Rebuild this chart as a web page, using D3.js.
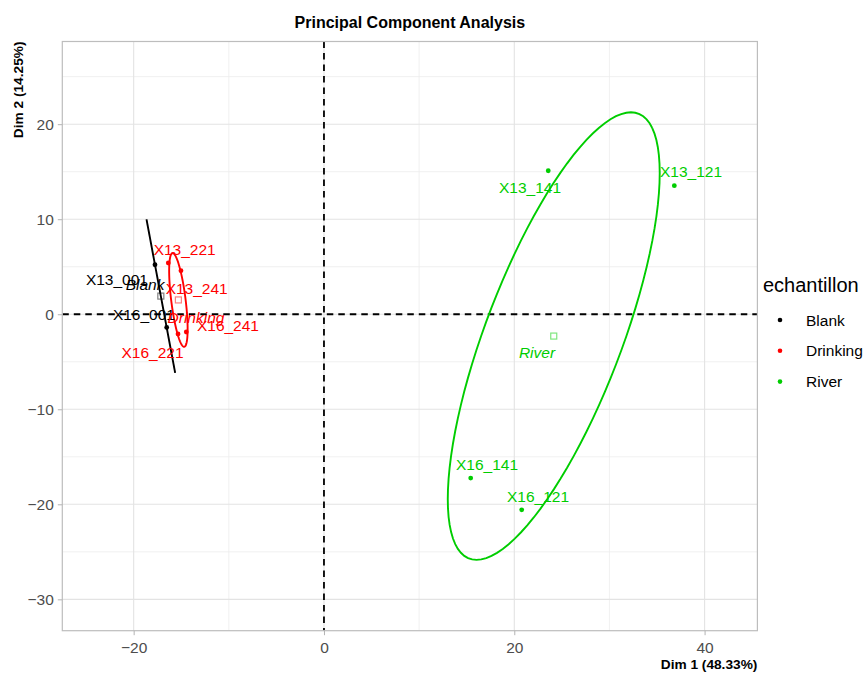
<!DOCTYPE html>
<html><head><meta charset="utf-8">
<script src="https://cdn.jsdelivr.net/npm/d3@7"></script>
<style>body{margin:0;background:#fff;} text{font-family:"Liberation Sans",Arial,sans-serif;}</style>
</head><body><svg id="chart" width="865" height="675"></svg>
<script>
// ---- data ----
const groups = ["Blank", "Drinking", "River"];
const groupColors = ["#000000", "#FF0000", "#00CD00"];
const pointNames = ["X13_001", "X16_001", "X13_221", "X13_241", "X16_221", "X16_241", "X13_141", "X13_121", "X16_141", "X16_121"];
const pointGroups = ["Blank", "Blank", "Drinking", "Drinking", "Drinking", "Drinking", "River", "River", "River", "River"];
const dim1 = [-17.76, -16.53, -16.36, -15.03, -15.34, -14.47, 23.57, 36.82, 15.42, 20.78];
const dim2 = [5.21, -1.39, 5.39, 4.58, -2.08, -1.87, 15.10, 13.53, -17.24, -20.58];
// repelled label positions (data units)
const labelDim1 = [-21.76, -18.92, -14.64, -13.38, -18.02, -10.09, 21.65, 38.57, 17.13, 22.49];
const labelDim2 = [3.63, -0.05, 6.79, 2.76, -4.02, -1.21, 13.39, 15.03, -15.84, -19.18];
const groupLabelDim1 = [-18.80, -13.45, 22.39];
const groupLabelDim2 = [3.11, -0.29, -3.98];
const xTicks = [-20, 0, 20, 40];
const xMinor = [-10, 10, 30];
const yTicks = [-30, -20, -10, 0, 10, 20];
const yMinor = [-25, -15, -5, 5, 15, 25];
const xDomain = [-27.5, 45.55];
const yDomain = [-33.3, 28.7];
const titleText = "Principal Component Analysis";
const xTitle = "Dim 1 (48.33%)";
const yTitle = "Dim 2 (14.25%)";
const legendTitle = "echantillon";
const ellipseLevel = 0.95;

// ---- layout ----
const P = {left: 62.3, right: 757.4, top: 41.5, bottom: 630.7};
const svg = d3.select("#chart");
const x = d3.scaleLinear().domain(xDomain).range([P.left, P.right]);
const y = d3.scaleLinear().domain(yDomain).range([P.bottom, P.top]);
const color = d3.scaleOrdinal().domain(groups).range(groupColors);

const defs = svg.append("defs");
defs.append("clipPath").attr("id", "clip").append("rect")
  .attr("x", P.left).attr("y", P.top).attr("width", P.right - P.left).attr("height", P.bottom - P.top);

// grid
const grid = svg.append("g");
grid.selectAll(".xmin").data(xMinor).join("line")
  .attr("x1", d => x(d)).attr("x2", d => x(d)).attr("y1", P.top).attr("y2", P.bottom)
  .attr("stroke", "#ececec").attr("stroke-width", 0.8);
grid.selectAll(".ymin").data(yMinor).join("line")
  .attr("y1", d => y(d)).attr("y2", d => y(d)).attr("x1", P.left).attr("x2", P.right)
  .attr("stroke", "#ececec").attr("stroke-width", 0.8);
grid.selectAll(".xmaj").data(xTicks).join("line")
  .attr("x1", d => x(d)).attr("x2", d => x(d)).attr("y1", P.top).attr("y2", P.bottom)
  .attr("stroke", "#e3e3e3").attr("stroke-width", 1.1);
grid.selectAll(".ymaj").data(yTicks).join("line")
  .attr("y1", d => y(d)).attr("y2", d => y(d)).attr("x1", P.left).attr("x2", P.right)
  .attr("stroke", "#e3e3e3").attr("stroke-width", 1.1);

const plot = svg.append("g").attr("clip-path", "url(#clip)");
// zero lines
plot.append("line").attr("x1", x(0)).attr("x2", x(0)).attr("y1", P.top).attr("y2", P.bottom)
  .attr("stroke", "#000").attr("stroke-width", 1.8).attr("stroke-dasharray", "6.5,5");
plot.append("line").attr("y1", y(0)).attr("y2", y(0)).attr("x1", P.left).attr("x2", P.right)
  .attr("stroke", "#000").attr("stroke-width", 1.8).attr("stroke-dasharray", "6.5,5");

// confidence ellipses (barycentre confidence: cov / n, chi-square 2 df)
const tq = Math.sqrt(-2 * Math.log(1 - ellipseLevel));
const pts = pointNames.map((n, i) => ({name: n, g: pointGroups[i], x: dim1[i], y: dim2[i], lx: labelDim1[i], ly: labelDim2[i]}));
const line = d3.line().x(d => x(d[0])).y(d => y(d[1]));
const centres = [];
groups.forEach(g => {
  const gp = pts.filter(p => p.g === g);
  const n = gp.length;
  const mx = d3.mean(gp, p => p.x), my = d3.mean(gp, p => p.y);
  let sxx = 0, syy = 0, sxy = 0;
  gp.forEach(p => { sxx += (p.x - mx) ** 2; syy += (p.y - my) ** 2; sxy += (p.x - mx) * (p.y - my); });
  sxx /= (n - 1) * n; syy /= (n - 1) * n; sxy /= (n - 1) * n;
  const sx = Math.sqrt(sxx), sy = Math.sqrt(syy);
  let r = sxy / (sx * sy); r = Math.max(-1, Math.min(1, r));
  const dd = Math.acos(r);
  const ell = d3.range(101).map(k => {
    const a = 2 * Math.PI * k / 100;
    return [tq * sx * Math.cos(a + dd / 2) + mx, tq * sy * Math.cos(a - dd / 2) + my];
  });
  plot.append("path").datum(ell).attr("d", line).attr("fill", "none")
    .attr("stroke", color(g)).attr("stroke-width", 1.9);
  centres.push({g, x: mx, y: my});
});

// points
plot.selectAll(".pt").data(pts).join("circle")
  .attr("cx", d => x(d.x)).attr("cy", d => y(d.y)).attr("r", 2.4)
  .attr("fill", d => color(d.g));
// centre squares
plot.selectAll(".ctr").data(centres).join("rect")
  .attr("x", d => x(d.x) - 3).attr("y", d => y(d.y) - 3).attr("width", 6).attr("height", 6)
  .attr("fill", "none").attr("stroke", d => color(d.g)).attr("stroke-opacity", 0.5).attr("stroke-width", 1.2);
// point labels
plot.selectAll(".lbl").data(pts).join("text")
  .attr("x", d => x(d.lx)).attr("y", d => y(d.ly)).attr("dy", "0.36em")
  .attr("text-anchor", "middle").attr("font-size", "15.5px").attr("fill", d => color(d.g))
  .text(d => d.name);
// group labels
plot.selectAll(".glbl").data(groups).join("text")
  .attr("x", (d, i) => x(groupLabelDim1[i])).attr("y", (d, i) => y(groupLabelDim2[i])).attr("dy", "0.36em")
  .attr("text-anchor", "middle").attr("font-size", "15.5px").attr("font-style", "italic")
  .attr("fill", d => color(d)).text(d => d);

// border
svg.append("rect").attr("x", P.left).attr("y", P.top).attr("width", P.right - P.left).attr("height", P.bottom - P.top)
  .attr("fill", "none").attr("stroke", "#bdbdbd").attr("stroke-width", 1.2);

// axes
const xAxis = svg.append("g").attr("transform", `translate(0,${P.bottom})`)
  .call(d3.axisBottom(x).tickValues(xTicks).tickSize(4.5).tickPadding(4).tickFormat(d3.format("d")));
const yAxis = svg.append("g").attr("transform", `translate(${P.left},0)`)
  .call(d3.axisLeft(y).tickValues(yTicks).tickSize(4.5).tickPadding(4).tickFormat(d3.format("d")));
[xAxis, yAxis].forEach(a => {
  a.select(".domain").remove();
  a.selectAll(".tick line").attr("stroke", "#b3b3b3").attr("stroke-width", 1);
  a.selectAll(".tick text").attr("fill", "#4d4d4d").attr("font-size", "15.5px")
    .attr("font-family", "Liberation Sans, Arial, sans-serif");
});
xAxis.selectAll(".tick text").attr("dy", "0.9em");
yAxis.selectAll(".tick text").attr("dy", "0.35em");

// titles
svg.append("text").attr("x", (P.left + P.right) / 2).attr("y", 27.5).attr("text-anchor", "middle")
  .attr("font-size", "16px").attr("font-weight", "bold").text(titleText);
svg.append("text").attr("x", P.right).attr("y", 669).attr("text-anchor", "end")
  .attr("font-size", "13.7px").attr("font-weight", "bold").text(xTitle);
svg.append("text").attr("transform", `translate(23,${P.top}) rotate(-90)`).attr("text-anchor", "end")
  .attr("font-size", "13.7px").attr("font-weight", "bold").text(yTitle);

// legend
const lg = svg.append("g");
lg.append("text").attr("x", 763).attr("y", 292).attr("font-size", "20px").text(legendTitle);
groups.forEach((g, i) => {
  lg.append("circle").attr("cx", 780).attr("cy", 320 + i * 30.8).attr("r", 2.3).attr("fill", color(g));
  lg.append("text").attr("x", 806).attr("y", 320 + i * 30.8).attr("dy", "0.36em")
    .attr("font-size", "15.5px").attr("fill", "#000").text(g);
});
</script></body></html>
